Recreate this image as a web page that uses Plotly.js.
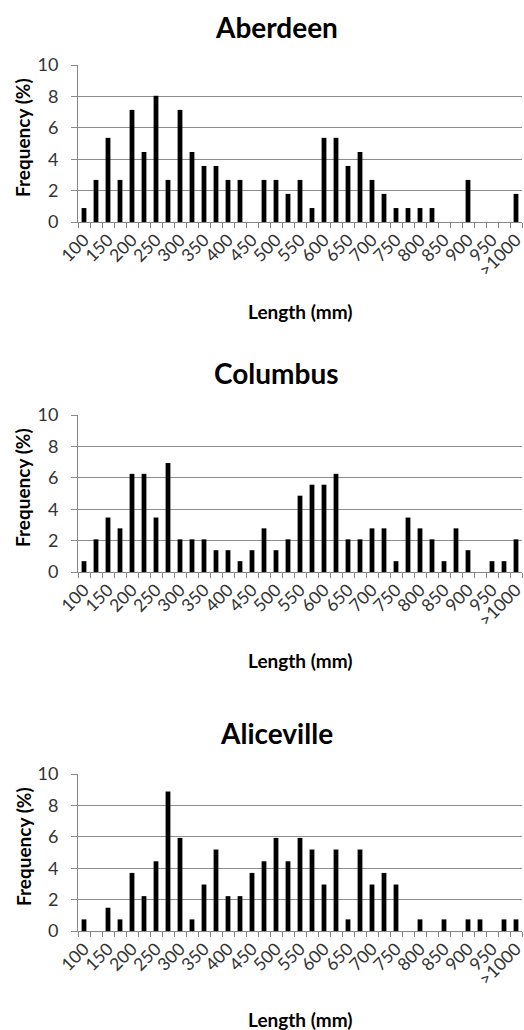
<!DOCTYPE html>
<html><head><meta charset="utf-8">
<script src="https://cdn.plot.ly/plotly-3.0.1.min.js"></script>
<style>html,body{margin:0;padding:0;background:#fff}#chart{width:524px;height:1030px}</style>
</head><body><div id="chart"></div>
<script>
const categories = ["100","125","150","175","200","225","250","275","300","325","350","375","400","425","450","475","500","525","550","575","600","625","650","675","700","725","750","775","800","825","850","875","900","925","950","975",">1000"];
const tickLabels = ["100","","150","","200","","250","","300","","350","","400","","450","","500","","550","","600","","650","","700","","750","","800","","850","","900","","950","",">1000"];
const aberdeen = [0.89,2.68,5.36,2.68,7.14,4.46,8.04,2.68,7.14,4.46,3.57,3.57,2.68,2.68,0,2.68,2.68,1.79,2.68,0.89,5.36,5.36,3.57,4.46,2.68,1.79,0.89,0.89,0.89,0.89,0,0,2.68,0,0,0,1.79];
const columbus = [0.69,2.08,3.47,2.78,6.25,6.25,3.47,6.94,2.08,2.08,2.08,1.39,1.39,0.69,1.39,2.78,1.39,2.08,4.86,5.56,5.56,6.25,2.08,2.08,2.78,2.78,0.69,3.47,2.78,2.08,0.69,2.78,1.39,0,0.69,0.69,2.08];
const aliceville = [0.74,0,1.48,0.74,3.70,2.22,4.44,8.89,5.93,0.74,2.96,5.19,2.22,2.22,3.70,4.44,5.93,4.44,5.93,5.19,2.96,5.19,0.74,5.19,2.96,3.70,2.96,0,0.74,0,0.74,0,0.74,0.74,0,0.74,0.74];
const siteNames = ["Aberdeen","Columbus","Aliceville"];
const yTitle = "Frequency (%)";
const xTitle = "Length (mm)";

const series = [aberdeen, columbus, aliceville];
const H = 1030;
const px = v => 1 - v / H;
// pixel positions of each panel: [top of plot, bottom of plot, title y, x-title y, y-title y]
const panels = [
  [65, 222, 27, 311, 138],
  [415, 572, 373, 660, 488],
  [774, 931, 733, 1019, 847]
];
const FONT = "Lato, 'Open Sans', sans-serif";
const gridCol = "#8c8c8c";
const lineCol = "#868686";

const data = [];
const layout = {
  width: 524, height: 1030,
  margin: {l: 78, r: 2, t: 0, b: 0},
  paper_bgcolor: "#fff", plot_bgcolor: "#fff",
  showlegend: false,
  bargap: 0.6,
  annotations: []
};
series.forEach((vals, k) => {
  const s = k === 0 ? "" : String(k + 1);
  data.push({
    type: "bar", x: categories, y: vals,
    xaxis: "x" + s, yaxis: "y" + s,
    marker: {color: "#000"}, hoverinfo: "x+y"
  });
  const p = panels[k];
  layout["xaxis" + s] = {
    domain: [0, 1], anchor: "y" + s, type: "category",
    range: [-0.5, categories.length - 0.5],
    tickmode: "array", tickvals: categories, ticktext: tickLabels,
    tickson: "boundaries", ticks: "outside", ticklen: 5, tickcolor: lineCol,
    showline: true, linecolor: lineCol, linewidth: 1,
    showgrid: false, zeroline: false,
    tickangle: -45, tickfont: {family: FONT, size: 17.5, color: "#333"},
    fixedrange: true
  };
  layout["yaxis" + s] = {
    domain: [px(p[1]), px(p[0])], anchor: "x" + s,
    range: [0, 10], tick0: 0, dtick: 2,
    showgrid: true, gridcolor: gridCol, gridwidth: 1,
    showline: true, linecolor: lineCol, zeroline: false,
    ticks: "outside", ticklen: 6, tickcolor: gridCol,
    ticklabelstandoff: 9,
    tickfont: {family: FONT, size: 18, color: "#333"},
    fixedrange: true
  };
  layout.annotations.push({
    text: "<b>" + siteNames[k] + "</b>", xref: "paper", yref: "paper",
    x: (276 - 78) / 444, y: px(p[2]), xanchor: "center", yanchor: "middle",
    showarrow: false, font: {family: FONT, size: 28, color: "#000"}
  });
  layout.annotations.push({
    text: "<b>" + xTitle + "</b>", xref: "paper", yref: "paper",
    x: 0.5, y: px(p[3]), xanchor: "center", yanchor: "middle",
    showarrow: false, font: {family: FONT, size: 19, color: "#000"}
  });
  layout.annotations.push({
    text: "<b>" + yTitle + "</b>", xref: "paper", yref: "paper",
    x: (23 - 78) / 444, y: px(p[4]), xanchor: "center", yanchor: "middle",
    textangle: -90,
    showarrow: false, font: {family: FONT, size: 19, color: "#000"}
  });
});
Plotly.newPlot("chart", data, layout, {displayModeBar: false, staticPlot: true});
</script>
</body></html>
